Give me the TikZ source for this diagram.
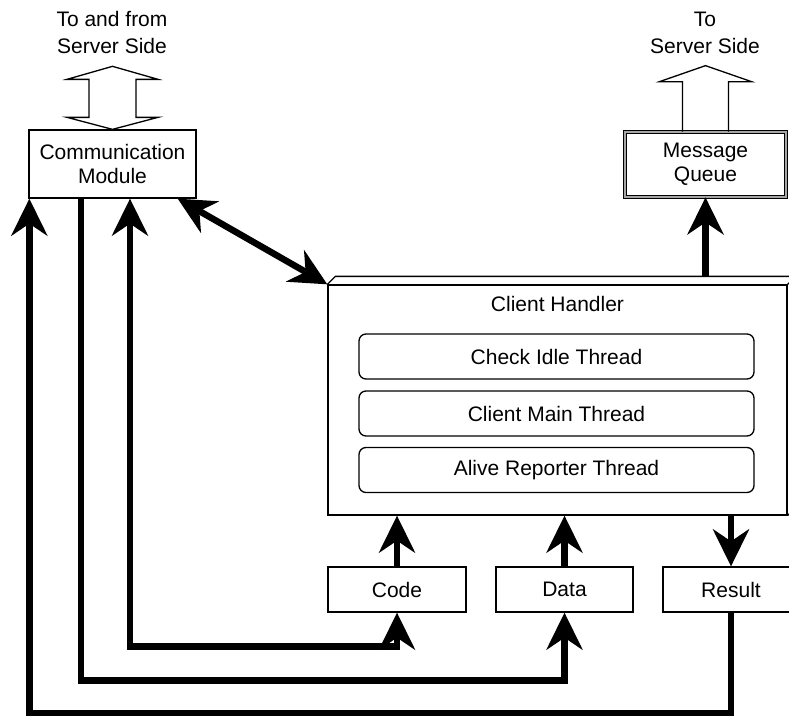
\documentclass[tikz,border=0pt]{standalone}
\usepackage{fontspec}
\setmainfont{Liberation Sans}
\usetikzlibrary{arrows.meta,calc}

\tikzset{
  box/.style={draw,line width=1.3pt,minimum height=45pt,inner sep=0pt,
    align=center,font=\fontsize{21}{24}\selectfont},
  thread/.style={box,rounded corners=7pt,minimum width=395pt},
  flow/.style={line width=6.5pt},
  hollow/.style={draw,line width=1.3pt,line join=miter},
}

\begin{document}
\begin{tikzpicture}[x=1pt,y=-1pt,
  >={Stealth[length=37pt,width=36pt,inset=12pt]},
  font=\fontsize{21}{24}\selectfont]
\useasboundingbox (0,0) rectangle (789,720);
% boxes
\node[box,minimum width=167pt,minimum height=68pt] (comm) at (112.5,164) {Communication\\Module};
\node[box,minimum width=161pt,minimum height=64.5pt,line width=1.2pt,
  double=black!35,double distance=2pt] (mq) at (705.5,164.5) {Message\\Queue};
\node[draw,line width=1.3pt,minimum width=459pt,minimum height=230pt] (ch) at (557.5,400) {};
\draw[line width=1.3pt] (ch.north west) -- ++(8,-8) coordinate (chtop)
  -- ($(ch.north east)+(8,-8)$) -- (ch.north east);
\draw[line width=1.3pt] ($(ch.north east)+(8,-8)$) -- ++(0,230) -- (ch.south east);
\node (chlabel) at ($(ch.north)+(0,20)$) {Client Handler};
\node[thread] (idle) at (556.5,356.5) {Check Idle Thread};
\node[thread] (main) at (556.5,413.5) {Client Main Thread};
\node[thread] (alive) at (556.5,470) {Alive Reporter Thread};
\node[box,minimum width=138pt] (code) at (397,589.5) {Code};
\node[box,minimum width=137pt] (data) at (564.5,589.5) {Data};
\node[box,minimum width=136pt] (result) at (731,589.5) {Result};
% labels on top
\node[align=center,font=\fontsize{21}{27}\selectfont] (tofrom) at (112,32) {To and from\\Server Side};
\node[align=center,font=\fontsize{21}{27}\selectfont] (toserver) at (705,33) {To\\Server Side};
% hollow arrows
\draw[hollow] (comm.north) -- ++(-45.5,-12) -- ++(22,0) -- ++(0,-38) -- ++(-22,0)
  -- ++(45.5,-13) -- ++(45.5,13) -- ++(-22,0) -- ++(0,38) -- ++(22,0) -- cycle;
\draw[hollow] ([xshift=-23pt]mq.north) -- ++(0,-50) -- ++(-23,0) -- ++(46,-16)
  -- ++(46,16) -- ++(-23,0) -- ([xshift=23pt]mq.north);
% thick connectors
\coordinate (dtip) at ($(comm.south east)+(-19,0)$);
\draw[flow,<->] (dtip) -- (ch.north west);
\draw[flow,->] (mq.south |- chtop) -- (mq.south);
\draw[flow,->] (code.north) -- (code.north |- ch.south);
\draw[flow,->] (data.north) -- (data.north |- ch.south);
\draw[flow,->] (result.north |- ch.south) -- (result.north);
\draw[flow,->] (result.south) -- (result.south |- 0,713) -| ([xshift=1pt]comm.south west);
\draw[flow,->] ([xshift=-31.5pt]comm.south) -- ++(0,482) -| (data.south);
\draw[flow,<->] ([xshift=17.5pt]comm.south) -- ++(0,448) -| (code.south);
\end{tikzpicture}
\end{document}
